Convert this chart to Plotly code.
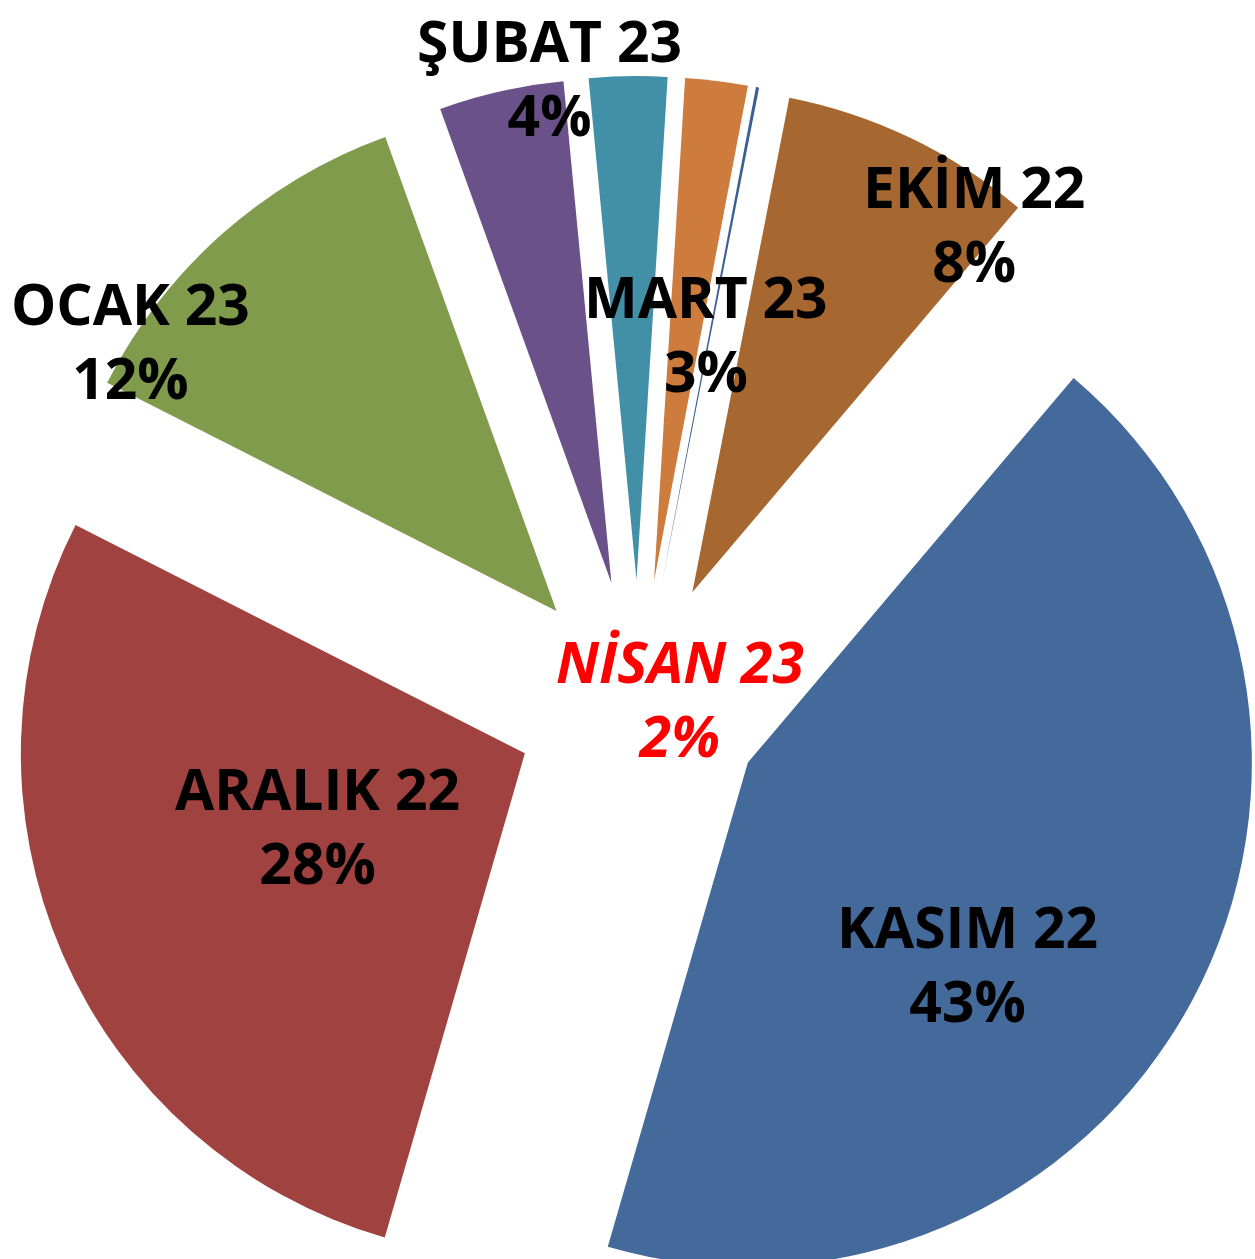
import plotly.graph_objects as go

# ---- data ----
months = ["EKİM 22", "KASIM 22", "ARALIK 22", "OCAK 23", "ŞUBAT 23", "MART 23", "NİSAN 23", "EYLÜL 22"]
shares = [8.1, 43.3, 28.0, 12.0, 4.0, 2.5, 2.0, 0.1]
pct_labels = ["8%", "43%", "28%", "12%", "4%", "3%", "2%", ""]

# ---- style ----
colors = ["#A66830", "#446A9C", "#A0423F", "#7F9B4B", "#6B5189", "#4290A8", "#CD7C3D", "#3B5E93"]
W, H = 1275, 1340          # paper slightly larger than the window; the page is clipped to 1255x1259
cx, cy = 638.6, 704.0      # pie centre in px
half = 628.0               # half size of the pie box
pull = 0.246
start_angle = 11.1

# label placement (px): centre of the two-line label block
label_pos = [(974, 223), (967, 963), (317, 825), (130, 340),
             (549, 77), (706, 333), (680, 698), None]
label_color = ["black", "black", "black", "black", "black", "black", "#FF0000", "black"]
label_style = ["normal", "normal", "normal", "normal", "normal", "normal", "italic", "normal"]
FONT = "Open Sans"
FS = 57

fig = go.Figure(go.Pie(
    labels=months, values=shares, sort=False, direction="clockwise",
    rotation=start_angle, pull=[pull] * len(shares),
    marker=dict(colors=colors, line=dict(width=0)),
    textinfo="none", showlegend=False,
    domain=dict(x=[(cx - half) / W, (cx + half) / W],
                y=[1 - (cy + half) / H, 1 - (cy - half) / H]),
))

for name, pct, pos, col, sty in zip(months, pct_labels, label_pos, label_color, label_style):
    if pos is None:
        continue
    x, ym = pos
    fig.add_annotation(
        x=x / W, y=1 - ym / H, xref="paper", yref="paper",
        xanchor="center", yanchor="middle", align="center", showarrow=False,
        text=f"{name}<br>{pct}",
        font=dict(family=FONT, size=FS, color=col, weight="bold", style=sty),
    )

fig.update_layout(
    width=W, height=H, margin=dict(l=0, r=0, t=0, b=0),
    paper_bgcolor="white", plot_bgcolor="white",
)

post = ("document.body.style.margin='0';document.body.style.overflow='hidden';"
        "var gd=document.getElementById('{plot_id}');var p=gd.parentElement;"
        "p.style.width='1255px';p.style.height='1259px';p.style.overflow='hidden';")
fig.write_html("out.html", config={"displayModeBar": False}, post_script=post)
